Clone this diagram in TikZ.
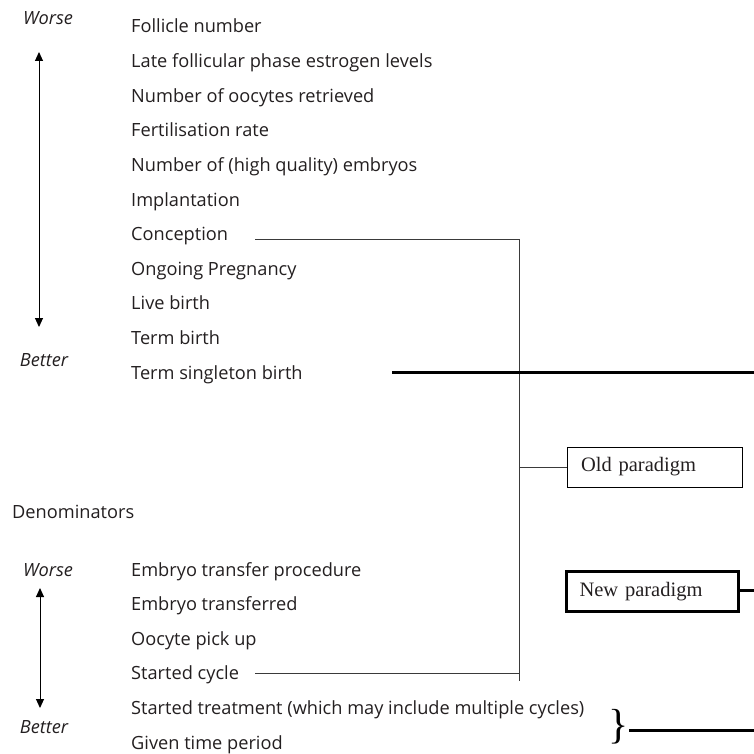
\documentclass[tikz,border=0pt]{standalone}
\usepackage{fontspec}
\setmainfont{Open Sans}
\newfontfamily\boxfont{Liberation Serif}
\usetikzlibrary{arrows.meta}
\definecolor{ink}{HTML}{231F20}
\definecolor{rule}{HTML}{3A3A3A}
\begin{document}
\begin{tikzpicture}[x=1pt,y=-1pt,
  item/.style={anchor=base west,inner sep=0,font=\fontsize{18.2}{20}\selectfont,text=ink},
  tag/.style={anchor=base,inner sep=0,font=\fontsize{18.2}{20}\selectfont\itshape,text=ink},
  thin/.style={draw=rule,line width=1pt},
  thick/.style={draw=black,line width=3pt},
  scale arrow/.style={draw=black,line width=1pt,{Triangle[length=9pt,width=8pt]}-{Triangle[length=9pt,width=8pt]}},
  parabox/.style={draw=black,inner ysep=0,inner xsep=14pt,minimum height=40pt,text width=147pt,align=left,font=\boxfont\fontsize{20.5}{22}\selectfont,text=ink}]
\useasboundingbox (0,0) rectangle (754,754);
% top list
\node[tag] (worse1) at (48,25) {Worse};
\node[tag] (better1) at (44,366) {Better};
\coordinate (a1t) at (39,52);
\coordinate (a1b) at (39,327);
\draw[scale arrow] (a1t) -- (a1b);
\node[item] (r1) at (131,33) {Follicle number};
\node[item] (r2) at (131,67.6) {Late follicular phase estrogen levels};
\node[item] (r3) at (131,102.2) {Number of oocytes retrieved};
\node[item] (r4) at (131,136.8) {Fertilisation rate};
\node[item] (r5) at (131,171.4) {Number of (high quality) embryos};
\node[item] (r6) at (131,206) {Implantation};
\node[item] (r7) at (131,240.6) {Conception};
\node[item] (r8) at (131,275.2) {Ongoing Pregnancy};
\node[item] (r9) at (131,309.8) {Live birth};
\node[item] (r10) at (131,344.4) {Term birth};
\node[item] (r11) at (131,379) {Term singleton birth};
% denominators
\node[item,anchor=base west] (den) at (12,518) {Denominators};
\node[tag] (worse2) at (48,576) {Worse};
\node[tag] (better2) at (44,733) {Better};
\coordinate (a2t) at (40,588);
\coordinate (a2b) at (40,708);
\draw[scale arrow] (a2t) -- (a2b);
\node[item] (d1) at (131,576) {Embryo transfer procedure};
\node[item] (d2) at (131,610.6) {Embryo transferred};
\node[item] (d3) at (131,645.2) {Oocyte pick up};
\node[item] (d4) at (131,679.8) {Started cycle};
\node[item] (d5) at (131,714.4) {Started treatment (which may include multiple cycles)};
\node[item] (d6) at (131,749) {Given time period};
% boxes
\node[parabox] (old) at (654.5,467) {Old paradigm};
\node[parabox,line width=3pt,minimum height=40pt,text width=145pt,inner xsep=13.5pt] (new) at (652,591.5) {New paradigm};
\node[inner sep=0,font=\boxfont\fontsize{42}{42}\selectfont,text=black] (brace) at (619,727) {\}};
% connectors
\coordinate (cstart) at (255,239);
\coordinate (jtop) at (519,239);
\coordinate (jbot) at (519,681);
\coordinate (jold) at (519,467);
\coordinate (sstart) at (255,673);
\coordinate (sjoin) at (519,673);
\draw[thin] (cstart) -- (jtop) -- (jbot);
\draw[thin] (sstart) -- (sjoin);
\draw[thin] (jold) -- (old.west);
\coordinate (tstart) at (392,372);
\coordinate (tend) at (754,372);
\draw[thick] (tstart) -- (tend);
\coordinate (nend) at (754,590);
\draw[thick] (new.east |- nend) -- (nend);
\coordinate (bend) at (754,730);
\draw[thick] (brace.east |- bend) -- (bend);
\end{tikzpicture}
\end{document}
